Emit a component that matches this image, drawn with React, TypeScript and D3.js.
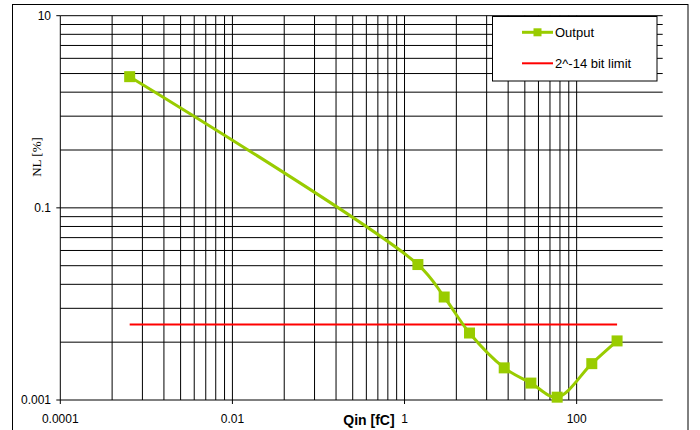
import React from 'react';
import * as d3 from 'd3';

// Output series (Qin in fC, NL in %)
const qin = [0.00064, 1.43, 2.89, 5.69, 14.4, 29.4, 59.4, 150, 295];
const nl = [2.32, 0.0257, 0.0118, 0.00498, 0.00216, 0.0015, 0.00107, 0.00239, 0.00412];

// 2^-14 bit limit, in %
const bitLimit = 0.0061;

const xMajors = [0.0001, 0.01, 1, 100];
const yMajors = [0.001, 0.1, 10];
const xTickLabels = ['0.0001', '0.01', '1', '100'];
const yTickLabels = ['0.001', '0.1', '10'];
const minorSteps = [4, 9, 16, 25, 36, 49, 64, 81];

const legendLabels = ['Output', '2^-14 bit limit'];

const W = 700;
const H = 430;
const plot = { left: 60.3, right: 662.7, top: 15.7, bottom: 400 };

export default function App() {
  const x = d3.scaleLog().domain([0.0001, 1000]).range([plot.left, plot.right]);
  const y = d3.scaleLog().domain([0.001, 10]).range([plot.bottom, plot.top]);

  // grid values: majors every two decades, minors at k^2 steps inside each band
  const xGrid: number[] = [];
  xMajors.forEach((m, i) => {
    xGrid.push(m);
    if (i < xMajors.length - 1) minorSteps.forEach(k => xGrid.push(m * k));
  });
  const yGrid: number[] = [];
  yMajors.forEach((m, i) => {
    yGrid.push(m);
    if (i < yMajors.length - 1) minorSteps.forEach(k => yGrid.push(m * k));
  });

  const pts = qin.map((q, i) => [x(q), y(nl[i])] as [number, number]);
  const line = d3.line().curve(d3.curveCatmullRom.alpha(0.5))(pts) || '';

  const green = '#99CC00';
  const ms = 11;
  const font = 'Arial, "Liberation Sans", sans-serif';

  const leg = { x: 492.5, y: 16.5, w: 164.5, h: 64.5 };

  return (
    <svg width={W} height={H} style={{ position: 'absolute', left: 0, top: 0, background: '#fff' }}>
      <rect x={12.5} y={4.5} width={675.5} height={500} fill="#fff" stroke="#000" strokeWidth={1} />

      {/* gridlines */}
      <g stroke="#000" strokeWidth={1}>
        {yGrid.map((v, i) => (
          <line key={'h' + i} x1={plot.left} x2={plot.right} y1={y(v)} y2={y(v)} />
        ))}
        {xGrid.map((v, i) => (
          <line key={'v' + i} x1={x(v)} x2={x(v)} y1={plot.top} y2={plot.bottom} />
        ))}
        {yMajors.map((v, i) => (
          <line key={'yt' + i} x1={plot.left - 4} x2={plot.left} y1={y(v)} y2={y(v)} />
        ))}
        {xMajors.map((v, i) => (
          <line key={'xt' + i} x1={x(v)} x2={x(v)} y1={plot.bottom} y2={plot.bottom + 4} />
        ))}
      </g>

      {/* tick labels */}
      <g fontFamily={font} fontSize={12} fill="#000">
        {yMajors.map((v, i) => (
          <text key={'yl' + i} x={51} y={y(v)} dy="0.35em" textAnchor="end">{yTickLabels[i]}</text>
        ))}
        {xMajors.map((v, i) => (
          <text key={'xl' + i} x={x(v)} y={423} textAnchor="middle">{xTickLabels[i]}</text>
        ))}
      </g>

      {/* axis titles */}
      <text x={369} y={425} textAnchor="middle" fontFamily={font} fontSize={14} fontWeight="bold">Qin [fC]</text>
      <text transform="translate(41,157) rotate(-90)" textAnchor="middle"
        fontFamily='"Liberation Serif", "DejaVu Serif", serif' fontSize={13}>NL [%]</text>

      {/* limit line */}
      <line x1={x(qin[0])} x2={x(qin[qin.length - 1])} y1={y(bitLimit)} y2={y(bitLimit)}
        stroke="#FF0000" strokeWidth={2} />

      {/* output series */}
      <path d={line} fill="none" stroke={green} strokeWidth={3} />
      {pts.map((p, i) => (
        <rect key={'m' + i} x={p[0] - ms / 2} y={p[1] - ms / 2} width={ms} height={ms} fill={green} />
      ))}

      {/* legend */}
      <rect x={leg.x} y={leg.y} width={leg.w} height={leg.h} fill="#fff" stroke="#000" strokeWidth={1} />
      <line x1={522} x2={553} y1={32.3} y2={32.3} stroke={green} strokeWidth={3} />
      <rect x={533.5} y={28.3} width={8} height={8} fill={green} />
      <line x1={522} x2={553} y1={63.3} y2={63.3} stroke="#FF0000" strokeWidth={2} />
      <g fontFamily={font} fontSize={13} fill="#000">
        <text x={555} y={32.3} dy="0.35em">{legendLabels[0]}</text>
        <text x={555} y={63.3} dy="0.35em">{legendLabels[1]}</text>
      </g>
    </svg>
  );
}
